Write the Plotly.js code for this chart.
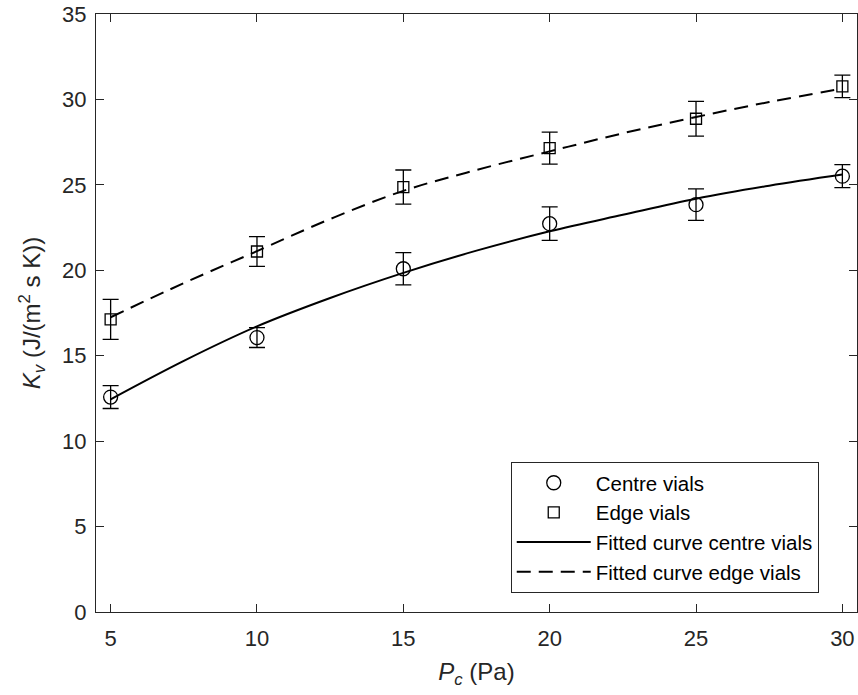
<!DOCTYPE html>
<html>
<head>
<meta charset="utf-8">
<script src="https://cdn.plot.ly/plotly-3.0.1.min.js"></script>
<style>html,body{margin:0;padding:0;background:#fff;}#chart{width:858px;height:695px;}</style>
</head>
<body>
<div id="chart"></div>
<script>
// Measured data
const pressure = [5, 10, 15, 20, 25, 30];
const centreKv = [12.58, 16.06, 20.09, 22.73, 23.84, 25.51];
const centreErr = [0.67, 0.58, 0.94, 0.98, 0.92, 0.67];
const edgeKv = [17.13, 21.1, 24.87, 27.15, 28.87, 30.76];
const edgeErr = [1.17, 0.87, 1.0, 0.94, 1.02, 0.66];

// Fitted curves
const fitP = [5, 7.5, 10, 12.5, 15, 17.5, 20, 22.5, 25, 27.5, 30];
const fitCentre = [12.45, 14.7, 16.72, 18.38, 19.85, 21.15, 22.28, 23.25, 24.19, 24.95, 25.6];
const fitEdge = [17.25, 19.25, 21.12, 23.0, 24.65, 25.87, 26.96, 28.02, 28.97, 29.85, 30.63];

const xTicks = [5, 10, 15, 20, 25, 30];
const yTicks = [0, 5, 10, 15, 20, 25, 30, 35];

const axisColor = '#262626';
const fontFam = 'Liberation Sans, Arial, Helvetica, sans-serif';

const traces = [
  {
    x: pressure, y: centreKv, type: 'scatter', mode: 'markers', name: 'Centre vials',
    marker: {symbol: 'circle-open', size: 14, color: '#000', line: {width: 1.3, color: '#000'}},
    error_y: {type: 'data', array: centreErr, visible: true, color: '#000', thickness: 1.3, width: 8}
  },
  {
    x: pressure, y: edgeKv, type: 'scatter', mode: 'markers', name: 'Edge vials',
    marker: {symbol: 'square-open', size: 11, color: '#000', line: {width: 1.3, color: '#000'}},
    error_y: {type: 'data', array: edgeErr, visible: true, color: '#000', thickness: 1.3, width: 8}
  },
  {
    x: fitP, y: fitCentre, type: 'scatter', mode: 'lines', name: 'Fitted curve centre vials',
    line: {color: '#000', width: 2, shape: 'spline'}
  },
  {
    x: fitP, y: fitEdge, type: 'scatter', mode: 'lines', name: 'Fitted curve edge vials',
    line: {color: '#000', width: 2, shape: 'spline', dash: '14px,8px'}
  }
];

const layout = {
  width: 858, height: 695,
  margin: {l: 96, r: 1, t: 14, b: 83, pad: 0},
  paper_bgcolor: '#fff', plot_bgcolor: '#fff',
  font: {family: fontFam, size: 22, color: axisColor},
  showlegend: true,
  legend: {
    x: 0.545, y: 0.251, xanchor: 'left', yanchor: 'top',
    bgcolor: '#fff', bordercolor: axisColor, borderwidth: 1,
    font: {family: fontFam, size: 20.5, color: '#000'},
    itemwidth: 74, tracegroupgap: 0
  },
  xaxis: {
    range: [4.5, 30.5], tickvals: xTicks, ticktext: xTicks.map(String),
    ticks: 'inside', ticklen: 8, tickwidth: 1, tickcolor: axisColor,
    showline: true, linecolor: axisColor, linewidth: 1, mirror: 'ticks',
    showgrid: false, zeroline: false, ticklabelstandoff: 7,
    tickfont: {family: fontFam, size: 22, color: axisColor},
    title: {text: '<i>P</i><sub><i>c</i></sub> (Pa)', standoff: 12, font: {family: fontFam, size: 24, color: axisColor}}
  },
  yaxis: {
    range: [0, 35], tickvals: yTicks, ticktext: yTicks.map(String),
    ticks: 'inside', ticklen: 8, tickwidth: 1, tickcolor: axisColor,
    showline: true, linecolor: axisColor, linewidth: 1, mirror: 'ticks',
    showgrid: false, zeroline: false, ticklabelstandoff: 4,
    tickfont: {family: fontFam, size: 22, color: axisColor},
    title: {text: '<i>K</i><sub><i>v</i></sub> (J/(m<sup>2</sup> s K))', standoff: 14, font: {family: fontFam, size: 24, color: axisColor}}
  }
};

Plotly.newPlot('chart', traces, layout, {displayModeBar: false, staticPlot: true});
</script>
</body>
</html>
